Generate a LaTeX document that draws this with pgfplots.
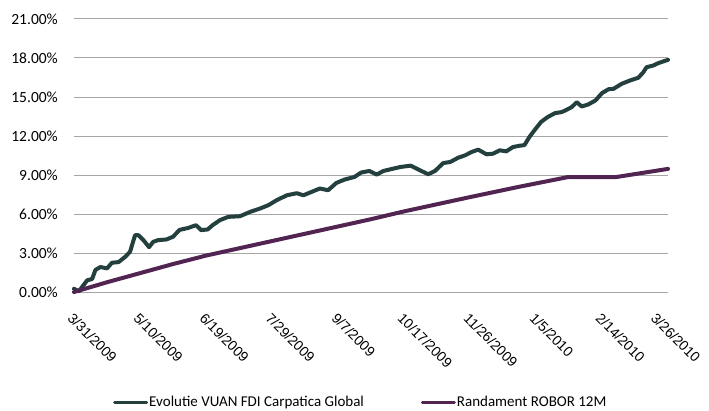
\documentclass[border=0pt]{standalone}
\usepackage{fontspec}
\setmainfont{Carlito}
\newfontfamily\arialf{Liberation Sans}
\usepackage{pgfplots}
\pgfplotsset{compat=1.18}
\usepackage{pgfplotstable}
\definecolor{fundgreen}{HTML}{23403F}
\definecolor{robpurple}{HTML}{512452}
\definecolor{gridgray}{HTML}{A6A6A6}

\pgfplotstableread{
day val
0 0.25
3 0.05
5 0.4
8 0.9
11 1.0
13 1.7
16 1.92
20 1.82
23 2.25
27 2.3
31 2.7
34 3.1
37 4.37
39 4.37
42 4.0
45.5 3.45
48 3.86
51 3.99
56 4.04
60 4.25
64 4.78
69 4.92
74 5.14
77 4.76
81 4.81
84 5.14
88.5 5.53
93.5 5.78
100.6 5.83
106.7 6.16
112.7 6.42
117.8 6.68
122.8 7.06
129 7.44
135 7.60
139 7.44
144 7.70
149 7.96
154 7.83
159 8.39
164 8.65
170 8.85
174 9.19
179 9.31
183.5 9.03
187.5 9.31
193.5 9.49
198 9.62
204 9.72
209.7 9.36
214.7 9.06
218.8 9.31
223.8 9.92
228 10.0
233 10.34
237 10.51
241 10.77
245 10.95
250 10.59
254 10.64
258 10.90
262 10.82
266 11.15
270 11.25
273 11.3
276 11.92
279 12.43
283 13.07
287 13.45
291.5 13.76
295.6 13.84
298.6 14.02
301.6 14.22
304.7 14.6
307.7 14.27
311.7 14.43
316 14.73
320 15.3
324 15.6
327 15.63
332 16.02
337 16.27
342 16.48
345 16.9
347 17.29
351 17.42
354 17.6
360 17.86
}\fund

\pgfplotstableread{
day val
0 0
20 0.75
40 1.45
60 2.15
80 2.8
105 3.5
130 4.2
155 4.9
180 5.6
200 6.2
240 7.3
270 8.1
299 8.83
328 8.83
360 9.47
}\robor

\begin{document}
\begin{tikzpicture}
\begin{axis}[
  at={(0,0)}, anchor=south west,
  scale only axis, width=594bp, height=273bp,
  xmin=0, xmax=360, ymin=0, ymax=21,
  clip=false,
  axis line style={draw=none},
  major tick length=0pt,
  xtick={0,40,...,320},
  xticklabels={3/31/2009,5/10/2009,6/19/2009,7/29/2009,9/7/2009,10/17/2009,11/26/2009,1/5/2010,2/14/2010},
  xticklabel style={font=\arialf\fontsize{14bp}{16bp}\selectfont, rotate=-45, anchor=north west, inner sep=0pt},
  xticklabel shift=20bp,
  extra x ticks={360},
  extra x tick labels={3/26/2010},
  extra x tick style={xticklabel style={xshift=-7.5bp, yshift=-7.5bp}},
  ytick={0,3,...,21},
  yticklabels={0.00\%,3.00\%,6.00\%,9.00\%,12.00\%,15.00\%,18.00\%,21.00\%},
  yticklabel style={font=\fontsize{15.5bp}{18bp}\selectfont, anchor=east, inner sep=0pt},
  yticklabel shift=16bp,
  ymajorgrids,
  major grid style={gridgray, line width=1bp},
  legend columns=2,
  legend style={at={(0.0657,-0.403)}, anchor=west, draw=none, fill=none, inner sep=0pt,
    font=\fontsize{15bp}{18bp}\selectfont, nodes={inner sep=1bp},
    /tikz/every even column/.append style={column sep=56bp}},
  legend image code/.code={\draw[#1,line width=3bp] (0bp,0bp) -- (32bp,0bp);},
]
\addplot[fundgreen, line width=4bp, line join=round, line cap=round] table[x=day,y=val] {\fund};
\addlegendentry{Evolutie VUAN FDI Carpatica Global}
\addplot[robpurple, line width=4bp, line join=round, line cap=round] table[x=day,y=val] {\robor};
\addlegendentry{Randament ROBOR 12M}
\end{axis}
\pgfresetboundingbox
\path (-74bp,-119bp) rectangle (635bp,292bp);
\end{tikzpicture}
\end{document}
